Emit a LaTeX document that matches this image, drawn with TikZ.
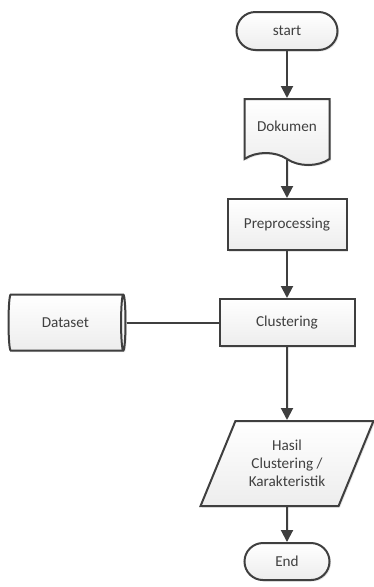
\documentclass[tikz,border=0pt]{standalone}
\usepackage{fontspec}
\setmainfont{Carlito}
\usepackage{tikz}
\usetikzlibrary{arrows.meta,positioning,shapes.geometric,shapes.misc,shapes.symbols,shadows}
\definecolor{fcline}{HTML}{3F3F3F}
\definecolor{fcfill}{HTML}{EDEDED}

\begin{document}
\begin{tikzpicture}[
x=1pt,y=1pt,
node distance=45pt and 90pt,
box/.style={draw=fcline,line width=2pt,align=center,
font=\fontsize{15.2}{18}\selectfont,text=black!75,
top color=white,bottom color=fcfill,
drop shadow={opacity=0.2,shadow xshift=1.5pt,shadow yshift=-1.5pt}},
term/.style={box,rounded rectangle,inner sep=0pt},
proc/.style={box,rectangle,inner sep=0pt},
doc/.style={box,tape,tape bend top=none,tape bend bottom=out and in,
tape bend height=12pt,inner sep=0pt},
store/.style={box,cylinder,aspect=0.45,inner sep=0pt},
io/.style={box,trapezium,trapezium left angle=61,trapezium right angle=119,
trapezium stretches=true,inner sep=0pt},
arr/.style={-{Triangle[length=12pt,width=12pt]},draw=fcline,fill=fcline,line width=2pt}
]
\useasboundingbox (0,0) rectangle (374,-587);
\node[term,minimum width=101pt,minimum height=38pt] (start) at (287,-31) {start};
\node[doc,below=47pt of start,minimum width=85pt,minimum height=66pt] (dok) {Dokumen};
\node[proc,below=44pt of dok,minimum width=119pt,minimum height=51pt] (pre) {Preprocessing};
\node[proc,below=47pt of pre,minimum width=135pt,minimum height=47pt] (cl) {Clustering};
\node[io,below=73pt of cl,minimum width=173pt,minimum height=85pt] (hasil)
{Hasil\\Clustering /\\Karakteristik};
\node[term,below=35pt of hasil,minimum width=85pt,minimum height=37pt] (end) {End};
\node[store,left=92pt of cl,minimum width=56pt,minimum height=117pt] (ds) {Dataset};
\foreach \a/\b in {start/dok,dok/pre,pre/cl,cl/hasil,hasil/end}
\draw[arr] (\a) -- (\b);
\draw[draw=fcline,line width=2pt] (ds.east) -- (cl.west);
\end{tikzpicture}
\end{document}
